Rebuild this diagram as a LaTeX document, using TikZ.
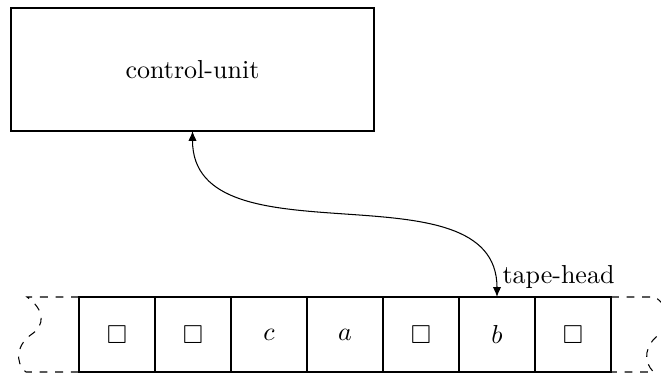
\documentclass[tikz,border=0pt]{standalone}
\usepackage{amssymb}
\usetikzlibrary{arrows.meta}
\begin{document}
\begin{tikzpicture}[x=0.3846pt,y=-0.3846pt,
  cell/.style={draw,minimum width=29.23pt,minimum height=28.85pt,inner sep=0pt,outer sep=0pt},
  cu/.style={draw,minimum width=139.6pt,minimum height=47.3pt,inner sep=0pt,outer sep=0pt},
  tapeedge/.style={dashed},
  link/.style={{Latex[length=3.8pt,width=3.2pt]}-{Latex[length=3.8pt,width=3.2pt]}}]
\useasboundingbox (0,0) rectangle (661,374);
\node[cu] (cu) at (192.5,69.5) {control-unit};
\node[cell] (c1) at (117,334.5) {$\square$};
\node[cell] (c2) at (193,334.5) {$\square$};
\node[cell] (c3) at (269,334.5) {$c$};
\node[cell] (c4) at (345,334.5) {$a$};
\node[cell] (c5) at (421,334.5) {$\square$};
\node[cell] (c6) at (497,334.5) {$b$};
\node[cell] (c7) at (573,334.5) {$\square$};
\draw[link] (cu.south) to[out=-90,in=90] (c6.north);
\node[anchor=base west,inner sep=0pt] (th) at (502,284) {tape-head};
\begin{scope}
\clip (0,0) rectangle (661,374);
\draw[tapeedge] (c1.north west) -- (27,297)
  .. controls (45,310) and (45,325) .. (32,334)
  .. controls (17,344) and (14,362) .. (26,372) -- (c1.south west);
\draw[tapeedge] (c7.north east) -- (655,297)
  .. controls (673,310) and (673,325) .. (660,334)
  .. controls (645,344) and (642,362) .. (654,372) -- (c7.south east);
\end{scope}
\end{tikzpicture}
\end{document}
